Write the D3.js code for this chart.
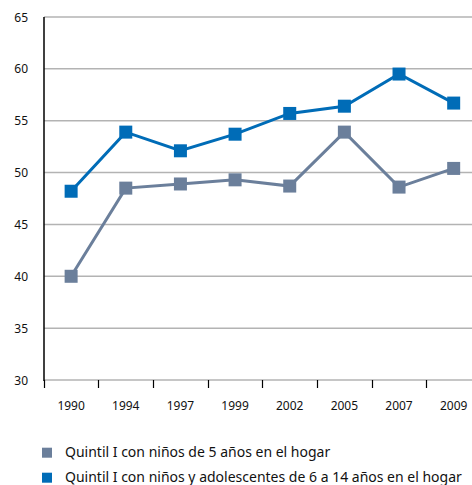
<!DOCTYPE html>
<html><head><meta charset="utf-8">
<script src="https://cdn.jsdelivr.net/npm/d3@7"></script>
<style>body{margin:0;background:#fff}svg{display:block}text{font-family:"Noto Sans",sans-serif;fill:#111}</style>
</head><body>
<svg id="c" width="472" height="485"></svg>
<script>
const years = ["1990","1994","1997","1999","2002","2005","2007","2009"];
const quintil5 = [40.0,48.5,48.9,49.3,48.7,53.9,48.6,50.4];
const quintil6a14 = [48.2,53.9,52.1,53.7,55.7,56.4,59.5,56.7];
const yTicks = [30,35,40,45,50,55,60,65];
const seriesNames = ["Quintil I con niños de 5 años en el hogar","Quintil I con niños y adolescentes de 6 a 14 años en el hogar"];
const colors = ["#6b7f9b","#006cb7"];

const svg = d3.select("#c");
const x = d3.scaleBand().domain(years).range([43.8,481]);
const y = d3.scaleLinear().domain([30,65]).range([380,17]);

// gridlines
svg.append("g").selectAll("line").data(yTicks).join("line")
  .attr("x1",44).attr("x2",472).attr("y1",d=>y(d)).attr("y2",d=>y(d))
  .attr("stroke","#b3b3b3").attr("stroke-width",1.5);

// y labels
svg.append("g").selectAll("text").data(yTicks).join("text")
  .attr("x",28).attr("y",d=>y(d)+4.5).attr("text-anchor","end").attr("font-size",12).text(d=>d);

// y axis line
svg.append("line").attr("x1",44).attr("x2",44).attr("y1",17).attr("y2",381).attr("stroke","#000").attr("stroke-width",1.5);

// x ticks
const tickPos = years.map(d=>x(d));
svg.append("g").selectAll("line").data(tickPos).join("line")
  .attr("x1",d=>Math.round(d)+0.5).attr("x2",d=>Math.round(d)+0.5).attr("y1",380).attr("y2",388)
  .attr("stroke","#000").attr("stroke-width",1.2);

// x labels
svg.append("g").selectAll("text").data(years).join("text")
  .attr("x",d=>x(d)+x.bandwidth()/2).attr("y",410).attr("text-anchor","middle").attr("font-size",12).text(d=>d);

const line = d3.line().x((d,i)=>x(years[i])+x.bandwidth()/2).y(d=>y(d));
[quintil5, quintil6a14].forEach((s,k)=>{
  const g = svg.append("g");
  g.append("path").datum(s).attr("d",line).attr("fill","none").attr("stroke",colors[k]).attr("stroke-width",3);
  g.selectAll("rect").data(s).join("rect")
    .attr("x",(d,i)=>x(years[i])+x.bandwidth()/2-6.5).attr("y",d=>y(d)-6.5)
    .attr("width",13).attr("height",13).attr("fill",colors[k]);
});

// legend
const lg = svg.append("g");
seriesNames.forEach((n,k)=>{
  lg.append("rect").attr("x",42).attr("y",447.7+25*k).attr("width",10).attr("height",10).attr("fill",colors[k]);
  lg.append("text").attr("x",65).attr("y",457+25*k).attr("font-size",14).text(n);
});
</script>
</body></html>
